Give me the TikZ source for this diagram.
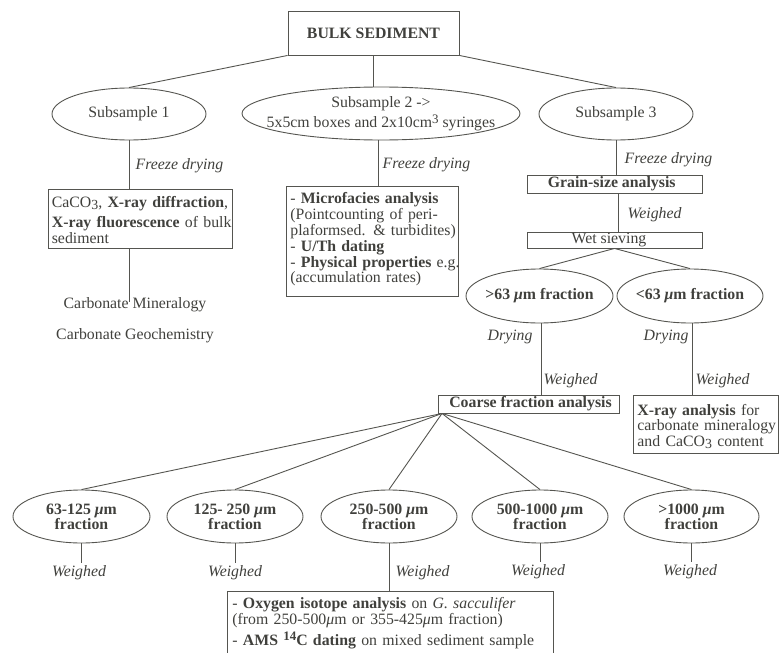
\documentclass[tikz,border=0pt]{standalone}
\usepackage{fontspec}
\setmainfont{Liberation Serif}
\usetikzlibrary{shapes.geometric,calc}
\definecolor{txtc}{RGB}{64,64,60}
\definecolor{linec}{RGB}{85,85,80}
\newcommand{\dnsc}[1]{\raisebox{-0.3ex}{\scalebox{0.88}{#1}}}
\newcommand{\upsc}[1]{\raisebox{0.6ex}{\scalebox{0.82}{#1}}}
\newcommand{\myu}{\textit{μ}}
\begin{document}
\begin{tikzpicture}[x=1pt,y=-1pt,
  font=\fontsize{15.8pt}{17pt}\selectfont,
  every node/.style={text=txtc},
  conn/.style={draw=linec, line width=0.9pt},
  box/.style={draw=linec, line width=0.9pt, rectangle, inner ysep=0pt, inner xsep=4pt},
  tbox/.style={box, anchor=north west, align=left},
  ell/.style={draw=linec, line width=0.9pt, ellipse, inner sep=0pt},
  lab/.style={font=\fontsize{15.8pt}{17pt}\selectfont\itshape, inner sep=1.5pt},
  txt/.style={inner sep=1pt},
  bft/.style={font=\fontsize{15.8pt}{17pt}\selectfont\bfseries},
  bft2/.style={font=\fontsize{15.8pt}{15pt}\selectfont\bfseries, align=center, inner sep=1pt}]
\useasboundingbox (0,0) rectangle (779,653);
\clip (0,0) rectangle (779,653);

% top
\node[box, bft, minimum width=171pt, minimum height=44pt] (bulk) at (373.5,33) {BULK SEDIMENT};
\node[ell, minimum width=154pt, minimum height=52pt] (s1) at (129,114) {};
\node[txt] (s1t) at (s1) {Subsample 1};
\node[ell, minimum width=278pt, minimum height=53pt] (s2) at (381,113.5) {};
\node[txt, align=center, font=\fontsize{15.8pt}{20.5pt}\selectfont] (s2t) at (s2) {Subsample 2 ->\\5x5cm boxes and 2x10cm\upsc{3} syringes};
\node[ell, minimum width=154pt, minimum height=52pt] (s3) at (616,114) {};
\node[txt] (s3t) at (s3) {Subsample 3};
\draw[conn] (bulk.south west) -- (s1.north);
\draw[conn] (bulk.south) -- (bulk.south |- s2.north);
\draw[conn] (bulk.south east) -- (s3.north);

% subsample 1 branch
\node[lab, anchor=base west] (fd1) at (134,169) {Freeze drying};
\node[tbox, inner xsep=3.7pt, text width=176.9pt, font=\fontsize{15.8pt}{16pt}\selectfont] (box1) at (47.7,189.3)
  {\mbox{\rule{0pt}{18pt}CaCO\dnsc{3}, \textbf{X-ray diffraction},}\\[3.4pt]
   \mbox{\textbf{X-ray fluorescence} of bulk}\\
   \mbox{sediment\rule[-5.6pt]{0pt}{0pt}}};
\draw[conn] (s1.south) -- (s1.south |- box1.north);
\node[txt, anchor=base] (cm) at (135,308.5) {Carbonate Mineralogy};
\node[txt, anchor=base] (cg) at (135,339.3) {Carbonate Geochemistry};
\coordinate (cmtop) at ($(s1.south |- cm.north)+(0,5.5)$);
\draw[conn] (s1.south |- box1.south) -- (cmtop);

% subsample 2 branch
\node[lab, anchor=base west] (fd2) at (381,168) {Freeze drying};
\node[tbox, inner xsep=4pt, text width=164pt, font=\fontsize{15.8pt}{15.9pt}\selectfont] (box2) at (286,186)
  {\mbox{\rule{0pt}{17pt}- \textbf{Microfacies analysis}}\\
   \mbox{(Pointcounting of peri-}\\
   \mbox{plaformsed. \& turbidites)}\\
   \mbox{- \textbf{U/Th dating}}\\
   \mbox{- \textbf{Physical properties} e.g.}\\
   \mbox{(accumulation rates)\rule[-13.5pt]{0pt}{0pt}}};
\draw[conn] ($(s2.south)+(-3,0)$) -- ($(s2.south |- box2.north)+(-3,0)$);

% subsample 3 branch
\node[lab, anchor=base west] (fd3) at (623,163) {Freeze drying};
\node[box, bft, minimum width=175pt, minimum height=18pt] (gs) at (614.5,184) {\kern-5.6pt Grain-size analysis};
\draw[conn] (s3.south) -- (s3.south |- gs.north);
\node[box, minimum width=175pt, minimum height=16pt] (ws) at (614.5,240) {\kern-11pt Wet sieving};
\draw[conn] ($(gs.south)+(3.5,0)$) -- ($(ws.north)+(3.5,0)$);
\node[lab, anchor=base west] (wg1) at (626,218) {Weighed};

\node[ell, minimum width=147pt, minimum height=54pt] (f63) at (539.5,296) {};
\node[txt, bft] (f63t) at (f63) {>63 \myu m fraction};
\node[ell, minimum width=146pt, minimum height=54pt] (f63l) at (690,296) {};
\node[txt, bft] (f63lt) at (f63l) {<63 \myu m fraction};
\draw[conn] (ws.south) -- (f63.north);
\draw[conn] (ws.south) -- (f63l.north);

\node[box, bft, minimum width=181pt, minimum height=18pt] (coarse) at (528.5,404) {\kern4pt Coarse fraction analysis};
\draw[conn] ($(f63.south)+(1.5,0)$) -- ($(f63.south |- coarse.north)+(1.5,0)$);
\node[lab, anchor=base west] (dr1) at (486,340) {Drying};
\node[lab, anchor=base west] (wg2) at (542,384) {Weighed};

\node[tbox, inner xsep=4pt, text width=137pt, font=\fontsize{15.8pt}{14pt}\selectfont] (xray) at (633,395)
  {\mbox{\rule{0pt}{20pt}\textbf{X-ray analysis} for}\\
   \mbox{carbonate mineralogy}\\
   \mbox{and CaCO\dnsc{3} content\rule[-7pt]{0pt}{0pt}}};
\draw[conn] ($(f63l.south)+(2,0)$) -- ($(f63l.south |- xray.north)+(2,0)$);
\node[lab, anchor=base west] (dr2) at (642,340) {Drying};
\node[lab, anchor=base west] (wg3) at (694,384) {Weighed};

% coarse fractions
\coordinate (cf) at ($(coarse.south)+(-86.5,0)$);
\node[ell, minimum width=137pt, minimum height=53pt] (e1) at (81.5,516.5) {};
\node[bft2] (e1t) at (e1) {63-125 \myu m\\fraction};
\node[ell, minimum width=136pt, minimum height=53pt] (e2) at (235,516.5) {};
\node[bft2] (e2t) at (e2) {125- 250 \myu m\\fraction};
\node[ell, minimum width=136pt, minimum height=53pt] (e3) at (389,516.5) {};
\node[bft2] (e3t) at (e3) {250-500 \myu m\\fraction};
\node[ell, minimum width=136pt, minimum height=53pt] (e4) at (540,516.5) {};
\node[bft2] (e4t) at (e4) {500-1000 \myu m\\fraction};
\node[ell, minimum width=135pt, minimum height=53pt] (e5) at (691.5,516.5) {};
\node[bft2] (e5t) at (e5) {>1000 \myu m\\fraction};
\foreach \e in {e1,e2,e3,e4,e5} \draw[conn] (cf) -- (\e.north);

\node[lab, anchor=base] (w1) at (79,576) {Weighed};
\node[lab, anchor=base] (w2) at (235,576) {Weighed};
\node[lab, anchor=base] (w4) at (538,575) {Weighed};
\node[lab, anchor=base] (w5) at (690,575) {Weighed};
\draw[conn] (e1.south) -- (e1.south |- w1.north);
\draw[conn] (e2.south) -- (e2.south |- w2.north);
\draw[conn] (e4.south) -- (e4.south |- w4.north);
\draw[conn] (e5.south) -- (e5.south |- w5.north);

\node[tbox, inner xsep=5pt, text width=316pt, font=\fontsize{15.8pt}{15.7pt}\selectfont] (bb) at (227,591)
  {\mbox{\rule{0pt}{17.3pt}- \textbf{Oxygen isotope analysis} on \textit{G. sacculifer}}\\
   \mbox{(from 250-500\myu m or 355-425\myu m fraction)}\\[3.6pt]
   \mbox{- \textbf{AMS \upsc{14}C dating} on mixed sediment sample\rule[-30pt]{0pt}{0pt}}};
\draw[conn] (e3.south) -- (e3.south |- bb.north);
\node[lab, anchor=base west] (w3) at (394,576) {Weighed};
\end{tikzpicture}
\end{document}
